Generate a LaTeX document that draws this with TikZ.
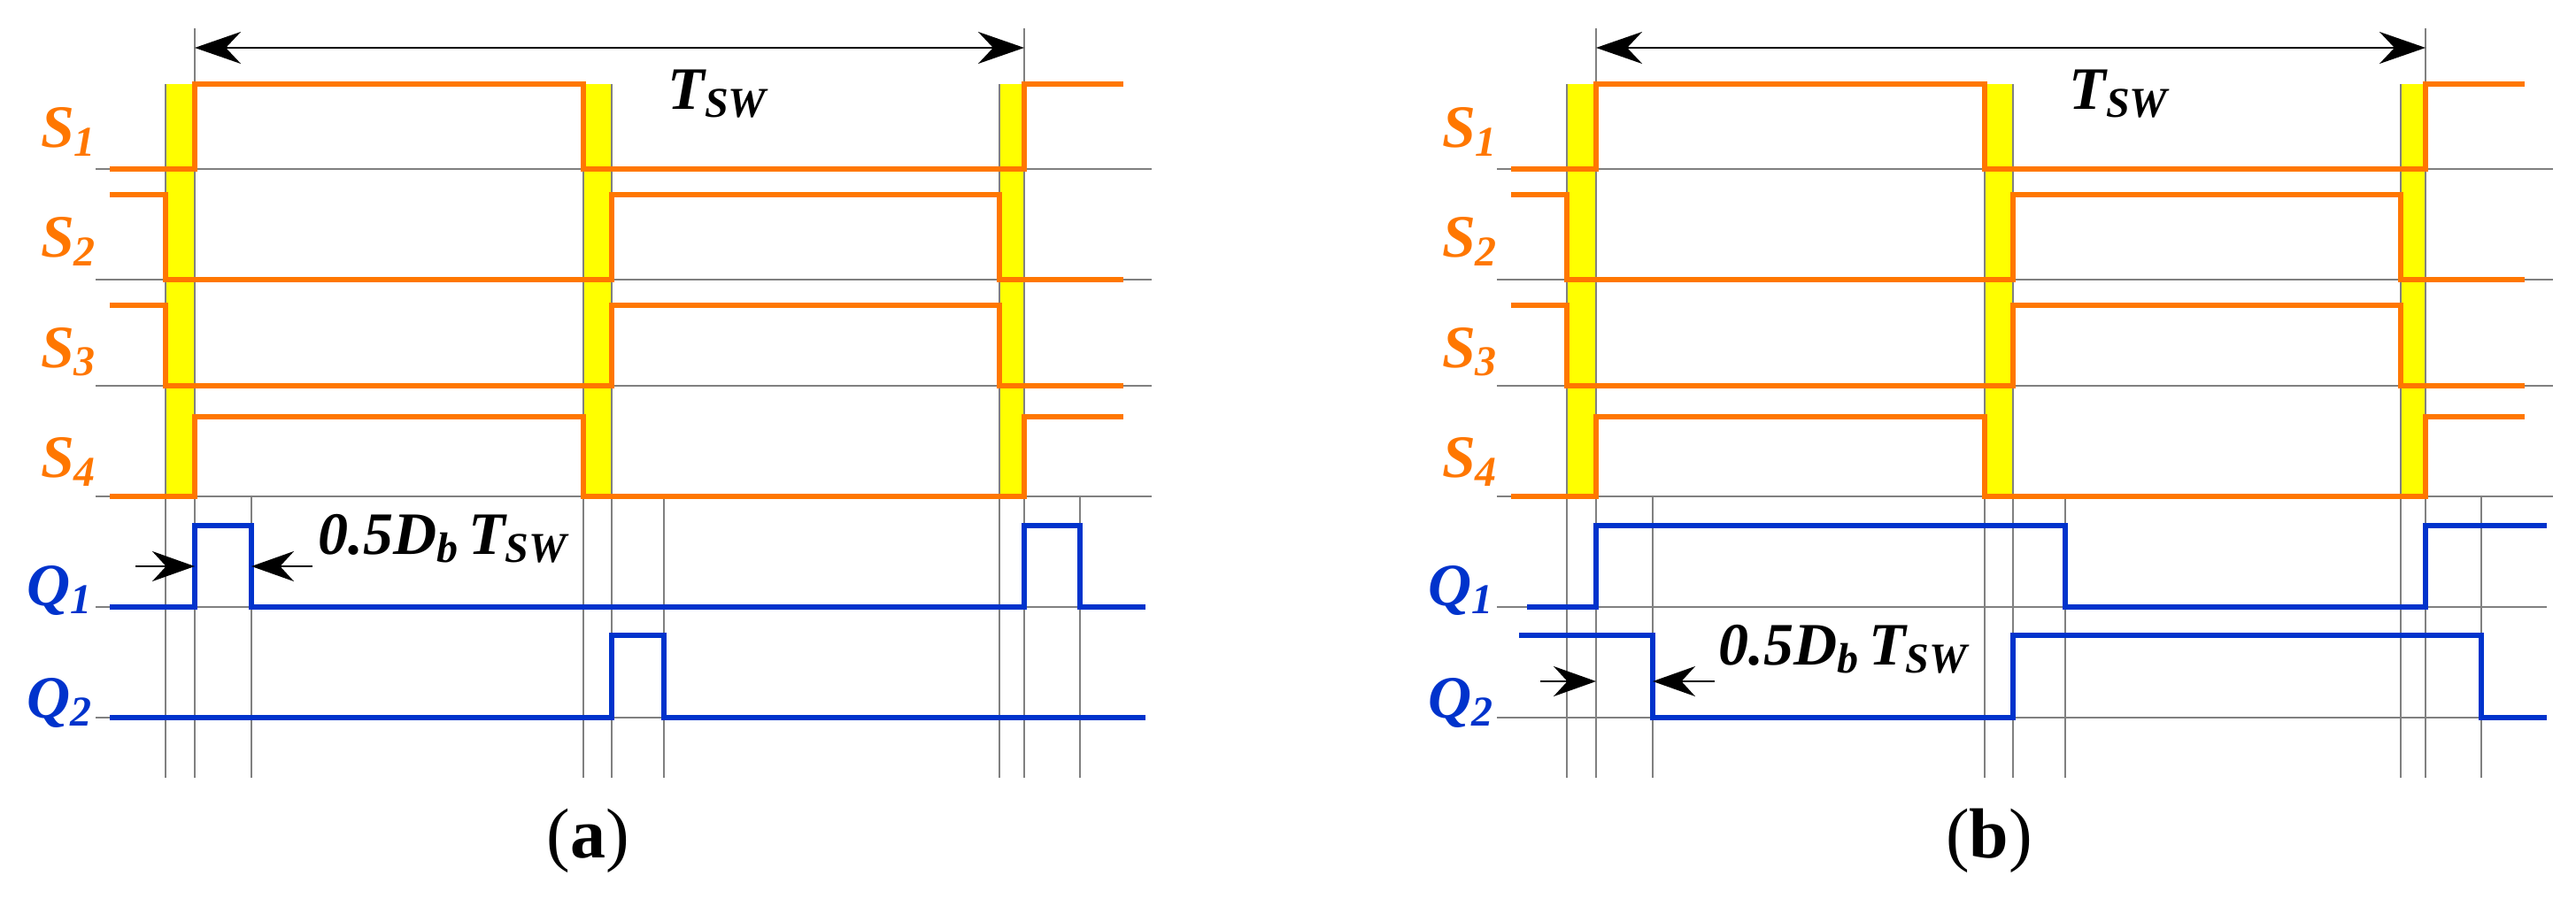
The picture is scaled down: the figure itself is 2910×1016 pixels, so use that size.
\documentclass[tikz,border=0pt]{standalone}
\usepackage{fontspec}
\setmainfont{Liberation Serif}
\usetikzlibrary{arrows.meta}
\definecolor{sor}{RGB}{255,119,0}
\definecolor{qbl}{RGB}{0,51,204}
\definecolor{yel}{RGB}{255,255,0}
\definecolor{grd}{RGB}{128,128,128}
\tikzset{
 grid/.style={grd,line width=1pt},
 sig/.style={sor,line width=2.6pt,line join=miter},
 qsig/.style={qbl,line width=2.6pt,line join=miter},
 slab/.style={sor,font=\fontsize{34}{34}\selectfont\bfseries\itshape},
 qlab/.style={qbl,font=\fontsize{34}{34}\selectfont\bfseries\itshape},
 blab/.style={font=\fontsize{34}{34}\selectfont\bfseries\itshape},
 dim/.style={line width=1.2pt,-{Stealth[length=24pt,width=17pt]}},
 captxt/.style={font=\fontsize{40}{40}\selectfont}
}
\newcommand\sub[1]{\raisebox{-0.3ex}{\fontsize{24}{24}\selectfont #1}}
\newcommand\mypanel[1]{%
\begin{scope}[shift={(#1,0)}]
 \fill[yel] (187,95) rectangle (220,561);
 \fill[yel] (659,95) rectangle (691,561);
 \fill[yel] (1129,95) rectangle (1157,561);
 \foreach \yy in {191,316,436,561} \draw[grid] (108,\yy) -- (1301,\yy);
 \foreach \yy in {686,811} \draw[grid] (108,\yy) -- (1294,\yy);
 \foreach \xx in {187,659,691,1129} \draw[grid] (\xx,95) -- (\xx,879);
 \foreach \xx in {220,1157} \draw[grid] (\xx,32) -- (\xx,879);
 \foreach \xx in {284,750,1220} \draw[grid] (\xx,561) -- (\xx,879);
 \draw[sig] (124,191)-|(220,95)-|(659,191)-|(1157,95)--(1269,95);
 \draw[sig] (124,220)-|(187,316)-|(691,220)-|(1129,316)--(1269,316);
 \draw[sig] (124,345)-|(187,436)-|(691,345)-|(1129,436)--(1269,436);
 \draw[sig] (124,561)-|(220,471)-|(659,561)-|(1157,471)--(1269,471);
 \coordinate (ta) at (220,54); \coordinate (tb) at (1157,54);
 \draw[line width=1.2pt,{Stealth[length=26pt,width=18pt]}-{Stealth[length=26pt,width=18pt]}] (ta) -- (tb);
 \node[blab] (tsw) at (810,106) {T\sub{SW}};
 \node[slab] (s1) at (77,149) {S\sub{1}};
 \node[slab] (s2) at (77,273) {S\sub{2}};
 \node[slab] (s3) at (77,398) {S\sub{3}};
 \node[slab] (s4) at (77,522) {S\sub{4}};
 \node[qlab] (q1) at (67,667) {Q\sub{1}};
 \node[qlab] (q2) at (67,794) {Q\sub{2}};
\end{scope}}
\begin{document}
\begin{tikzpicture}[x=0.5pt,y=-0.5pt]
\useasboundingbox[fill=white] (0,0) rectangle (2910,1016);
\mypanel{0}
\draw[qsig] (124,686)-|(220,594)-|(284,686)-|(1157,594)-|(1220,686)--(1294,686);
\draw[qsig] (124,811)-|(691,718)-|(750,811)--(1294,811);
\coordinate (la1) at (153,640); \coordinate (la2) at (220,640);
\coordinate (lb1) at (353,640); \coordinate (lb2) at (284,640);
\draw[dim] (la1) -- (la2); \draw[dim] (lb1) -- (lb2);
\node[blab] (da) at (500,609) {0.5D\sub{b}\,T\sub{SW}};
\node[captxt] (ca) at (664,950) {(\textbf{a})};
\mypanel{1583}
\begin{scope}[shift={(1583,0)}]
\draw[qsig] (142,686)-|(220,594)-|(750,686)-|(1157,594)--(1294,594);
\draw[qsig] (133,718)-|(284,811)-|(691,718)-|(1220,811)--(1294,811);
\coordinate (ra1) at (157,770); \coordinate (ra2) at (220,770);
\coordinate (rb1) at (354,770); \coordinate (rb2) at (284,770);
\draw[dim] (ra1) -- (ra2); \draw[dim] (rb1) -- (rb2);
\node[blab] (db) at (499,734) {0.5D\sub{b}\,T\sub{SW}};
\node[captxt] (cb) at (664,950) {(\textbf{b})};
\end{scope}
\end{tikzpicture}
\end{document}
